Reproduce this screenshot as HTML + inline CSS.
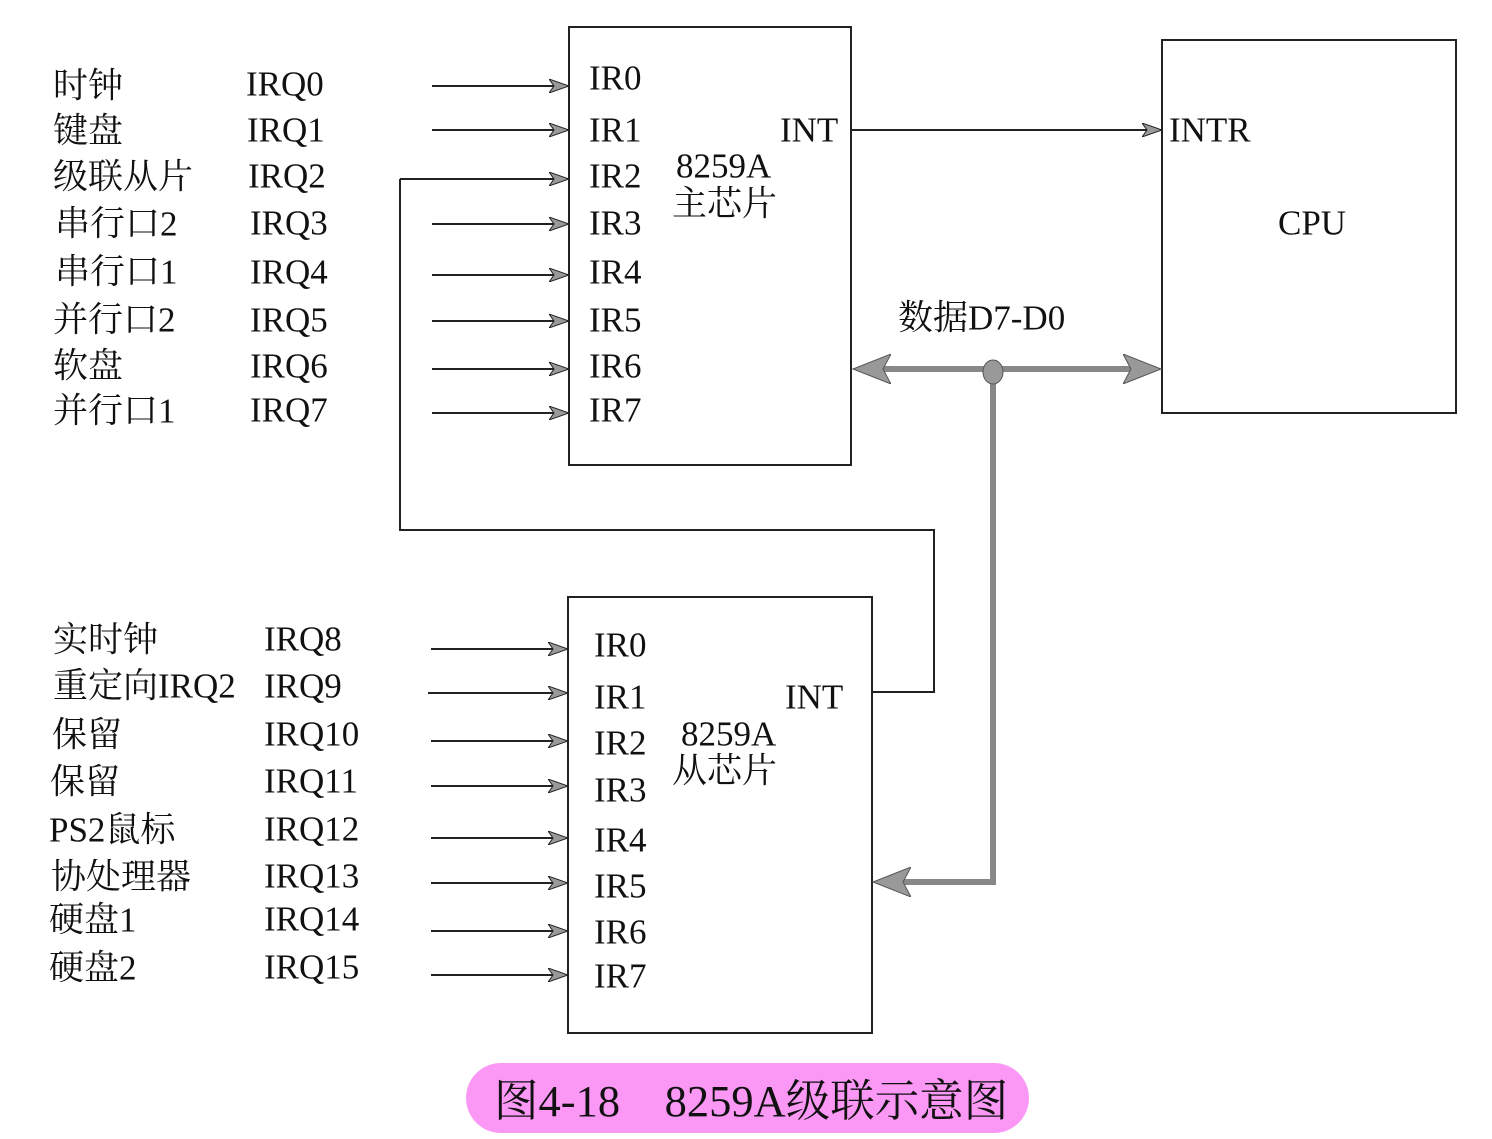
<!DOCTYPE html>
<html><head><meta charset="utf-8"><style>
html,body{margin:0;padding:0;background:#fff;}
svg{display:block;}
text{font-family:"Liberation Serif","Noto Serif CJK SC",serif;font-size:35px;fill:#111;dominant-baseline:central;}
</style></head><body>
<svg width="1492" height="1139" viewBox="0 0 1492 1139" xmlns="http://www.w3.org/2000/svg">
<defs>
<marker id="a" markerWidth="20" markerHeight="14" refX="19" refY="7" orient="auto" markerUnits="userSpaceOnUse">
<path d="M0,0 L20,7 L0,14 L5,7 Z" fill="#999" stroke="#222" stroke-width="1"/>
</marker>
<marker id="b" markerWidth="40" markerHeight="30" refX="38" refY="15" orient="auto" markerUnits="userSpaceOnUse">
<path d="M0,0 L38,15 L0,30 L8,15 Z" fill="#999" stroke="#555" stroke-width="1"/>
</marker>
</defs>
<g fill="none" stroke="#222" stroke-width="2">
<rect x="569" y="27" width="282" height="438"/>
<rect x="1162" y="40" width="294" height="373"/>
<rect x="568" y="597" width="304" height="436"/>
</g>
<g stroke="#222" stroke-width="2" marker-end="url(#a)">
<line x1="432" y1="86" x2="568" y2="86"/>
<line x1="432" y1="130" x2="568" y2="130"/>
<line x1="400" y1="179" x2="568" y2="179"/>
<line x1="432" y1="224" x2="568" y2="224"/>
<line x1="432" y1="275" x2="568" y2="275"/>
<line x1="432" y1="321" x2="568" y2="321"/>
<line x1="432" y1="369" x2="568" y2="369"/>
<line x1="432" y1="413" x2="568" y2="413"/>
<line x1="431" y1="649" x2="567" y2="649"/>
<line x1="428" y1="693" x2="567" y2="693"/>
<line x1="431" y1="741" x2="567" y2="741"/>
<line x1="431" y1="786" x2="567" y2="786"/>
<line x1="431" y1="838" x2="567" y2="838"/>
<line x1="431" y1="883" x2="567" y2="883"/>
<line x1="431" y1="931" x2="567" y2="931"/>
<line x1="431" y1="975" x2="567" y2="975"/>
<line x1="851" y1="130" x2="1161" y2="130"/>
</g>
<polyline points="400,179 400,530 934,530 934,692 872,692" fill="none" stroke="#222" stroke-width="2"/>
<g stroke="#888" stroke-width="6" fill="none">
<line x1="870" y1="369" x2="1145" y2="369"/>
<polyline points="993,372 993,882 890,882"/>
</g>
<line x1="1000" y1="369" x2="853" y2="369" stroke="none" marker-end="url(#b)"/>
<line x1="990" y1="369" x2="1161" y2="369" stroke="none" marker-end="url(#b)"/>
<line x1="980" y1="882" x2="873" y2="882" stroke="none" marker-end="url(#b)"/>
<ellipse cx="993" cy="372" rx="10" ry="12" fill="#999" stroke="#555"/>
<g>
<text x="53" y="86">时钟</text><text x="246" y="84">IRQ0</text>
<text x="53" y="131">键盘</text><text x="247" y="130">IRQ1</text>
<text x="53" y="177">级联从片</text><text x="248" y="176">IRQ2</text>
<text x="55" y="224">串行口2</text><text x="250" y="223">IRQ3</text>
<text x="55" y="272">串行口1</text><text x="250" y="272">IRQ4</text>
<text x="53" y="320">并行口2</text><text x="250" y="320">IRQ5</text>
<text x="53" y="366">软盘</text><text x="250" y="366">IRQ6</text>
<text x="53" y="411">并行口1</text><text x="250" y="410">IRQ7</text>

<text x="589" y="78">IR0</text><text x="589" y="130">IR1</text><text x="589" y="176">IR2</text>
<text x="589" y="223">IR3</text><text x="589" y="272">IR4</text><text x="589" y="320">IR5</text>
<text x="589" y="366">IR6</text><text x="589" y="410">IR7</text>
<text x="780" y="130">INT</text>
<text x="676" y="166">8259A</text><text x="672" y="204">主芯片</text>
<text x="1169" y="130">INTR</text><text x="1278" y="223">CPU</text>
<text x="898" y="318">数据D7-D0</text>

<text x="53" y="640">实时钟</text><text x="264" y="639">IRQ8</text>
<text x="53" y="686">重定向IRQ2</text><text x="264" y="686">IRQ9</text>
<text x="52" y="735">保留</text><text x="264" y="734">IRQ10</text>
<text x="50" y="782">保留</text><text x="264" y="781">IRQ11</text>
<text x="49" y="830">PS2鼠标</text><text x="264" y="829">IRQ12</text>
<text x="51" y="877">协处理器</text><text x="264" y="876">IRQ13</text>
<text x="49" y="920">硬盘1</text><text x="264" y="919">IRQ14</text>
<text x="49" y="968">硬盘2</text><text x="264" y="967">IRQ15</text>

<text x="594" y="645">IR0</text><text x="594" y="697">IR1</text><text x="594" y="743">IR2</text>
<text x="594" y="790">IR3</text><text x="594" y="840">IR4</text><text x="594" y="886">IR5</text>
<text x="594" y="932">IR6</text><text x="594" y="976">IR7</text>
<text x="785" y="697">INT</text>
<text x="681" y="734">8259A</text><text x="672" y="771">从芯片</text>
</g>
<rect x="466" y="1063" width="563" height="70" rx="35" fill="#fb98f6"/>
<text x="494" y="1101" style="font-size:44.5px">图4-18　8259A级联示意图</text>
</svg>
</body></html>
